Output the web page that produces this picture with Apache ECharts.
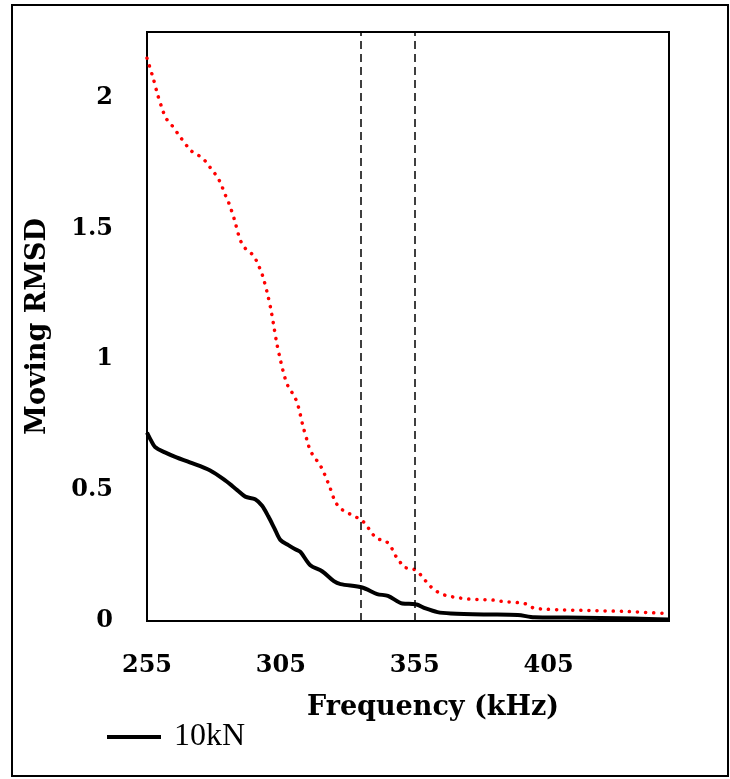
<!DOCTYPE html>
<html>
<head>
<meta charset="utf-8">
<script src="https://cdn.jsdelivr.net/npm/echarts@6/dist/echarts.min.js"></script>
<style>
html,body{margin:0;padding:0;background:#fff;}
#chart{width:730px;height:779px;}
</style>
</head>
<body>
<div id="chart"></div>
<script>
// 横轴从255起, 刻度按50 (画图时减去起点)
var freqStart = 255;
var xTickLabels = ['255', '305', '355', '405'];
var markFreqs = [335, 355];

// 红色点线
var freqRed = [255, 257.4, 259, 260.9, 262.1, 264.1, 267.7, 271.5, 274.1, 276.5, 278.4, 280.3, 282, 283.2, 284.4, 285.6, 287.6, 289.2, 290.3, 292, 294.4, 296, 297.2, 298.3, 299.9, 301.2, 302.3, 303.5, 305, 306.5, 308, 310, 311.5, 313.3, 315, 315.9, 317.5, 319.4, 320.8, 322, 323.2, 325.3, 327.3, 329.8, 332.5, 335.2, 337.3, 339, 341.2, 344.2, 346.2, 347.5, 349.4, 351.2, 354.2, 356.7, 358.6, 360.6, 363.1, 365.9, 368.7, 371.8, 375, 381.2, 384.3, 387.4, 393.7, 396.6, 399.3, 402.4, 408.7, 420, 435, 450];
var rmsdRed = [2.15, 2.07, 2.01, 1.95, 1.92, 1.896, 1.845, 1.796, 1.78, 1.76, 1.735, 1.71, 1.683, 1.655, 1.624, 1.596, 1.535, 1.475, 1.445, 1.42, 1.40, 1.374, 1.345, 1.315, 1.254, 1.194, 1.131, 1.06, 0.99, 0.93, 0.89, 0.86, 0.82, 0.743, 0.683, 0.653, 0.626, 0.60, 0.573, 0.544, 0.514, 0.456, 0.43, 0.414, 0.40, 0.385, 0.361, 0.335, 0.314, 0.305, 0.282, 0.255, 0.227, 0.205, 0.20, 0.182, 0.159, 0.135, 0.114, 0.10, 0.093, 0.088, 0.084, 0.081, 0.080, 0.075, 0.07, 0.065, 0.05, 0.046, 0.043, 0.04, 0.036, 0.028];

// 10kN 黑色实线
var freqBlack = [255, 256.5, 258, 261.7, 266, 271, 278.6, 284.2, 288.7, 291.7, 295.4, 298, 300.3, 302.6, 304.8, 307.8, 310.4, 312.3, 316, 320.4, 324.8, 327.3, 335.4, 341, 345, 350.4, 355.4, 359.1, 363.5, 368.5, 381, 393.5, 399.7, 412, 437, 450];
var rmsdBlack = [0.72, 0.69, 0.665, 0.644, 0.625, 0.606, 0.575, 0.537, 0.50, 0.475, 0.465, 0.44, 0.40, 0.354, 0.31, 0.29, 0.274, 0.264, 0.213, 0.19, 0.152, 0.141, 0.128, 0.103, 0.096, 0.067, 0.064, 0.048, 0.034, 0.029, 0.025, 0.023, 0.014, 0.013, 0.010, 0.006];

function toPairs(fs, vs){
    var res = [];
    for (var i = 0; i < fs.length; i++) {
        res.push([fs[i] - freqStart, vs[i]]);
    }
    return res;
}

var myChart = echarts.init(document.getElementById('chart'), null, {renderer: 'canvas'});
var boldSerif = 'DejaVu Serif';
var legendFont = 'Liberation Serif';

var option = {
    backgroundColor: '#fff',
    animation: false,
    graphic: [{
        type: 'rect',
        shape: {x: 12, y: 5, width: 716, height: 771},
        style: {fill: 'none', stroke: '#000', lineWidth: 2},
        silent: true
    }],
    grid: {
        left: 147, top: 32, right: 61, bottom: 158,
        show: true, borderColor: '#000', borderWidth: 2
    },
    legend: {
        data: [{name: '10kN', icon: 'rect'}],
        left: 102, top: 716,
        itemWidth: 54, itemHeight: 4,
        itemStyle: {color: '#000'},
        textStyle: {fontFamily: legendFont, fontSize: 32, color: '#000', padding: [0, 0, 0, 8]}
    },
    xAxis: {
        type: 'value',
        min: 0, max: 195, interval: 50,
        name: 'Frequency (kHz)',
        nameLocation: 'middle',
        nameGap: 73,
        nameTextStyle: {fontFamily: boldSerif, fontWeight: 'bold', fontSize: 27, color: '#000', padding: [0, 0, 0, 50]},
        axisLine: {lineStyle: {color: '#000', width: 2}},
        axisTick: {show: false},
        splitLine: {show: false},
        axisLabel: {
            margin: 33,
            fontFamily: boldSerif, fontWeight: 'bold', fontSize: 24, color: '#000',
            formatter: function (v) {
                var k = Math.round(v / 50);
                return (v % 50 === 0 && k < xTickLabels.length) ? xTickLabels[k] : '';
            }
        }
    },
    yAxis: {
        type: 'value',
        min: 0, max: 2.25, interval: 0.5,
        name: 'Moving RMSD',
        nameLocation: 'middle',
        nameGap: 96,
        nameTextStyle: {fontFamily: boldSerif, fontWeight: 'bold', fontSize: 27, color: '#000'},
        axisLine: {show: true, lineStyle: {color: '#000', width: 2}},
        axisTick: {show: false},
        splitLine: {show: false},
        axisLabel: {
            margin: 34,
            fontFamily: boldSerif, fontWeight: 'bold', fontSize: 24, color: '#000',
            formatter: function (v) { return v > 2.1 ? '' : String(v); }
        }
    },
    series: [
        {
            name: '5kN',
            type: 'line',
            data: toPairs(freqRed, rmsdRed),
            smooth: 0.3,
            symbol: 'none',
            lineStyle: {color: '#ff0000', width: 3.5, type: [0.1, 8], cap: 'round'},
            z: 3
        },
        {
            name: '10kN',
            type: 'line',
            data: toPairs(freqBlack, rmsdBlack),
            smooth: 0.3,
            symbol: 'none',
            itemStyle: {color: '#000'},
            lineStyle: {color: '#000', width: 4},
            markLine: {
                silent: true,
                symbol: 'none',
                label: {show: false},
                lineStyle: {color: '#000', width: 1.5, type: [8, 5]},
                data: markFreqs.map(function (f) { return {xAxis: f - freqStart}; })
            },
            z: 4
        }
    ]
};
myChart.setOption(option);
</script>
</body>
</html>
